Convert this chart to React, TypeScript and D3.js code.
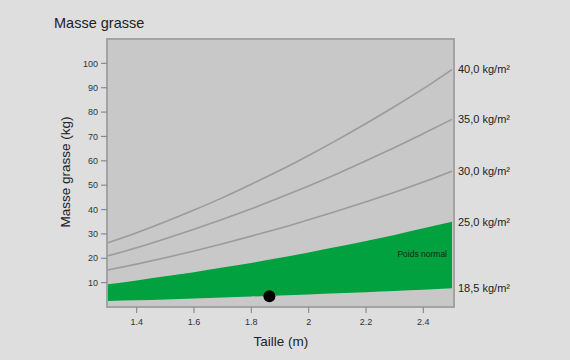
import React from "react";
import * as d3 from "d3";

const heights = [1.3, 1.4, 1.5, 1.6, 1.7, 1.8, 1.9, 2.0, 2.1, 2.2, 2.3, 2.4, 2.5];
const bmi40 = [26.4, 30.5, 35.0, 39.8, 44.9, 50.4, 56.1, 62.2, 68.6, 75.3, 82.3, 89.6, 97.5];
const bmi35 = [21.0, 24.3, 28.0, 31.9, 36.0, 40.3, 44.9, 49.7, 54.7, 60.0, 65.5, 71.2, 77.0];
const bmi30 = [15.2, 17.6, 20.2, 23.0, 26.0, 29.1, 32.3, 35.8, 39.4, 43.2, 47.1, 51.3, 55.8];
const bmi25 = [9.3, 10.9, 12.6, 14.3, 16.2, 18.1, 20.2, 22.4, 24.7, 27.1, 29.6, 32.3, 35.0];
const bmi185 = [2.5, 2.8, 3.1, 3.5, 3.9, 4.3, 4.7, 5.1, 5.6, 6.1, 6.6, 7.1, 7.7];
const curveLabels = ["40,0 kg/m²", "35,0 kg/m²", "30,0 kg/m²", "25,0 kg/m²", "18,5 kg/m²"];
const xTicks = [1.4, 1.6, 1.8, 2.0, 2.2, 2.4];
const yTicks = [10, 20, 30, 40, 50, 60, 70, 80, 90, 100];
const point = { h: 1.863, m: 4.4 };

const FONT = "'Liberation Sans', Arial, sans-serif";

export default function App() {
  const x = d3.scaleLinear().domain([1.3, 2.5]).range([108, 452]);
  const y = d3.scaleLinear().domain([0, 110]).range([307, 39]);
  const line = (vals: number[]) =>
    d3
      .line<number>()
      .x((_, i) => x(heights[i]))
      .y((d) => y(d))
      .curve(d3.curveMonotoneX)(vals) as string;
  const area = d3
    .area<number>()
    .x((_, i) => x(heights[i]))
    .y0((_, i) => y(bmi185[i]))
    .y1((d) => y(d))
    .curve(d3.curveMonotoneX)(bmi25) as string;

  const series = [bmi40, bmi35, bmi30, bmi25, bmi185];
  const boxL = 107,
    boxR = 454,
    boxT = 39,
    boxB = 307;

  return (
    <svg
      width={570}
      height={360}
      style={{ position: "absolute", left: 0, top: 0, fontFamily: FONT }}
    >
      <rect x={0} y={0} width={570} height={360} fill="#dedede" />
      <text x={54} y={28} fontSize={14.5} fill="#222">
        Masse grasse
      </text>
      <rect x={boxL} y={boxT} width={boxR - boxL} height={boxB - boxT} fill="#c8c8c8" />
      <defs>
        <clipPath id="plotclip">
          <rect x={boxL} y={boxT} width={boxR - boxL} height={boxB - boxT} />
        </clipPath>
      </defs>
      <g clipPath="url(#plotclip)">
        <path d={area} fill="#00a13e" />
        {[bmi40, bmi35, bmi30].map((s, i) => (
          <path key={i} d={line(s)} fill="none" stroke="#9b9b9b" strokeWidth={1.6} />
        ))}
        <text x={447} y={257} fontSize={8.5} textAnchor="end" fill="#0f2a14">
          Poids normal
        </text>
      </g>
      <circle cx={x(point.h)} cy={y(point.m)} r={6} fill="#000" />
      <rect
        x={boxL}
        y={boxT}
        width={boxR - boxL}
        height={boxB - boxT}
        fill="none"
        stroke="#a3a3a3"
        strokeWidth={2}
      />
      {yTicks.map((t) => (
        <g key={t}>
          <line x1={101} x2={107} y1={y(t)} y2={y(t)} stroke="#8a8a8a" strokeWidth={1.2} />
          <text x={98} y={y(t)} dy="0.35em" fontSize={9} textAnchor="end" fill="#333">
            {t}
          </text>
        </g>
      ))}
      {xTicks.map((t) => (
        <g key={t}>
          <line x1={x(t)} x2={x(t)} y1={307} y2={313} stroke="#8a8a8a" strokeWidth={1.2} />
          <text x={x(t)} y={325} fontSize={9} textAnchor="middle" fill="#333">
            {d3.format("~g")(t)}
          </text>
        </g>
      ))}
      {series.map((s, i) => (
        <text
          key={i}
          x={458}
          y={y(s[s.length - 1])}
          dy="0.35em"
          fontSize={11}
          fill="#222"
        >
          {curveLabels[i]}
        </text>
      ))}
      <text x={281} y={346} fontSize={13.5} textAnchor="middle" fill="#222">
        Taille (m)
      </text>
      <text
        transform={`translate(70,172) rotate(-90)`}
        fontSize={13.5}
        textAnchor="middle"
        fill="#222"
      >
        Masse grasse (kg)
      </text>
    </svg>
  );
}
